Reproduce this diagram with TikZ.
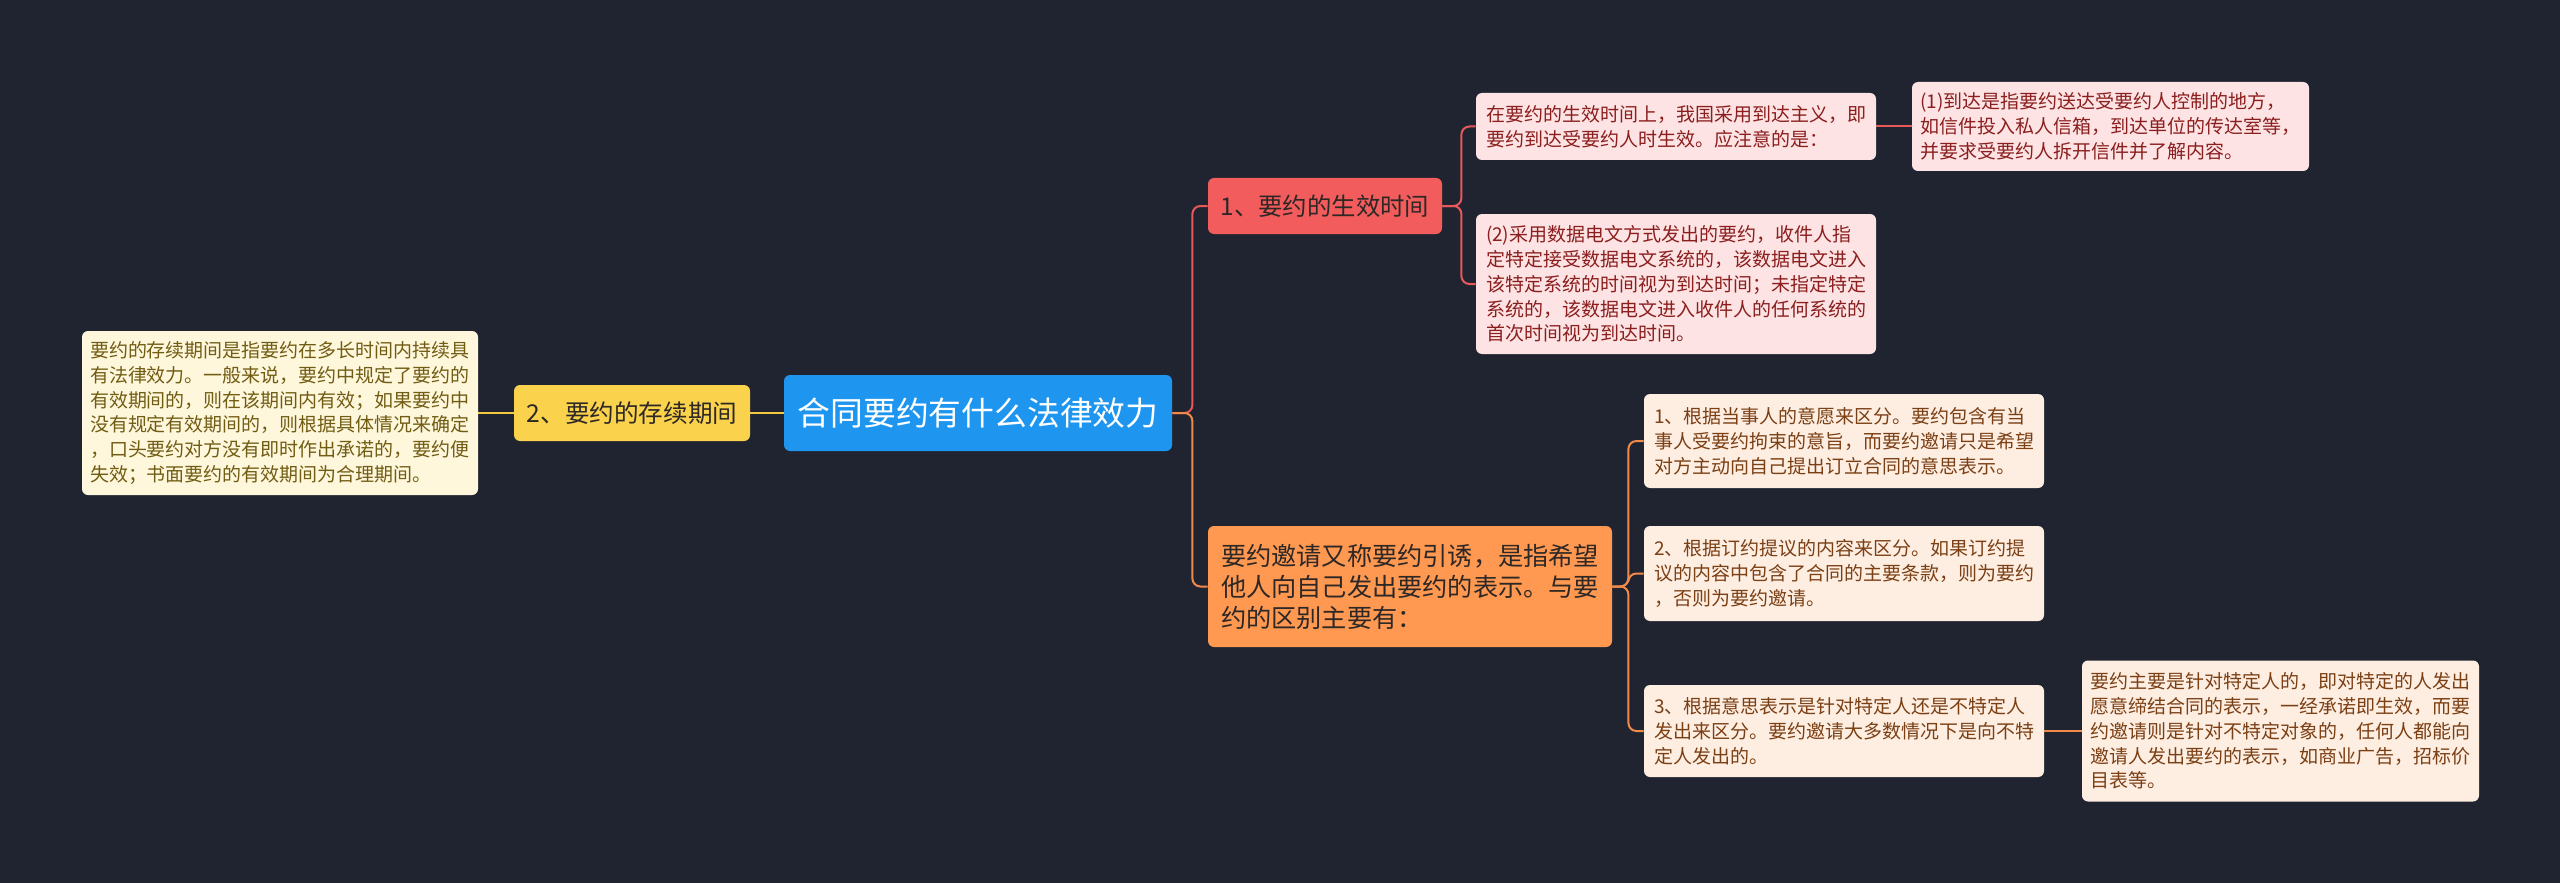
\documentclass[tikz,border=0pt]{standalone}
\usepackage{fontspec}
\setmainfont{Noto Sans CJK SC}
\usetikzlibrary{positioning}
\definecolor{bg}{RGB}{32,36,48}
\definecolor{rootblue}{RGB}{30,150,240}
\definecolor{yel}{RGB}{250,210,75}
\definecolor{yelline}{RGB}{244,200,65}
\definecolor{cream}{RGB}{255,247,220}
\definecolor{olive}{RGB}{112,92,18}
\definecolor{redb}{RGB}{243,92,92}
\definecolor{redline}{RGB}{232,88,90}
\definecolor{pink}{RGB}{253,227,227}
\definecolor{pinktext}{RGB}{139,30,30}
\definecolor{orab}{RGB}{255,152,80}
\definecolor{oraline}{RGB}{240,138,75}
\definecolor{peach}{RGB}{254,238,226}
\definecolor{peachtext}{RGB}{123,63,20}
\definecolor{dark}{RGB}{45,40,38}
\tikzset{basic/.style={rounded corners=3pt,inner sep=0pt,align=left}}
\tikzset{topic/.style={basic,fill=rootblue,text=white,font=\fontsize{16.4}{20}\selectfont}}
\tikzset{branch/.style={basic,text=dark,font=\fontsize{12.2}{15.5}\selectfont}}
\tikzset{leaf/.style={basic,font=\fontsize{9.5}{12.4}\selectfont}}
\tikzset{yleaf/.style={leaf,fill=cream,text=olive}}
\tikzset{rleaf/.style={leaf,fill=pink,text=pinktext}}
\tikzset{oleaf/.style={leaf,fill=peach,text=peachtext}}
\tikzset{link/.style={line width=1pt,rounded corners=4pt}}

\begin{document}
\begin{tikzpicture}[x=0.5pt,y=-0.5pt]
        \fill[bg] (0,0) rectangle (2560,883);
        \node[topic,minimum width=194pt,minimum height=38pt] (center) at (978,413) {合同要约有什么法律效力};
        % left side
        \node[branch,fill=yel,minimum width=118pt,minimum height=28pt,font=\fontsize{12.3}{15}\selectfont] (left) at (632,413) {2、要约的存续期间};
            \path[draw,yelline,link] (center.west) -- (left.east);
        \node[yleaf,minimum width=198pt,minimum height=82pt] (ll) at (280,413) {要约的存续期间是指要约在多长时间内持续具\\有法律效力。一般来说，要约中规定了要约的\\有效期间的，则在该期间内有效；如果要约中\\没有规定有效期间的，则根据具体情况来确定\\，口头要约对方没有即时作出承诺的，要约便\\失效；书面要约的有效期间为合理期间。};
            \path[draw,yelline,link] (left.west) -- (ll.east);
        % upper right
        \node[branch,fill=redb,minimum width=117pt,minimum height=28pt] (up) at (1325,206) {1、要约的生效时间};
            \path[draw,redline,link] (center.east) -- ++(20,0) |- (up.west);
        \node[rleaf,minimum width=200pt,minimum height=33.5pt] (u1) at (1676,126.5) {在要约的生效时间上，我国采用到达主义，即\\要约到达受要约人时生效。应注意的是：};
            \path[draw,redline,link] (up.east) -- ++(19,0) |- (u1.west);
        \node[rleaf,minimum width=198.5pt,minimum height=44.5pt] (u11) at (2110.5,126.5) {(1)到达是指要约送达受要约人控制的地方，\\如信件投入私人信箱，到达单位的传达室等，\\并要求受要约人拆开信件并了解内容。};
            \path[draw,redline,link] (u1.east) -- (u11.west);
        \node[rleaf,minimum width=200pt,minimum height=70pt] (u2) at (1676,284) {(2)采用数据电文方式发出的要约，收件人指\\定特定接受数据电文系统的，该数据电文进入\\该特定系统的时间视为到达时间；未指定特定\\系统的，该数据电文进入收件人的任何系统的\\首次时间视为到达时间。};
            \path[draw,redline,link] (up.east) -- ++(19,0) |- (u2.west);
        % lower right
        \node[branch,fill=orab,minimum width=202pt,minimum height=60.5pt,font=\fontsize{12.6}{15.5}\selectfont] (down) at (1410,586.5) {要约邀请又称要约引诱，是指希望\\他人向自己发出要约的表示。与要\\约的区别主要有：};
            \path[draw,oraline,link] (center.east) -- ++(20,0) |- (down.west);
        \node[oleaf,minimum width=200pt,minimum height=47pt] (d1) at (1844,441) {1、根据当事人的意愿来区分。要约包含有当\\事人受要约拘束的意旨，而要约邀请只是希望\\对方主动向自己提出订立合同的意思表示。};
            \path[draw,oraline,link] (down.east) -- ++(16,0) |- (d1.west);
        \node[oleaf,minimum width=200pt,minimum height=47.5pt] (d2) at (1844,573.5) {2、根据订约提议的内容来区分。如果订约提\\议的内容中包含了合同的主要条款，则为要约\\，否则为要约邀请。};
            \path[draw,oraline,link] (down.east) -- ++(16,0) |- (d2.west);
        \node[oleaf,minimum width=200pt,minimum height=46pt] (d3) at (1844,731) {3、根据意思表示是针对特定人还是不特定人\\发出来区分。要约邀请大多数情况下是向不特\\定人发出的。};
            \path[draw,oraline,link] (down.east) -- ++(16,0) |- (d3.west);
        \node[oleaf,minimum width=198.5pt,minimum height=70.5pt] (d31) at (2280.5,731) {要约主要是针对特定人的，即对特定的人发出\\愿意缔结合同的表示，一经承诺即生效，而要\\约邀请则是针对不特定对象的，任何人都能向\\邀请人发出要约的表示，如商业广告，招标价\\目表等。};
            \path[draw,oraline,link] (d3.east) -- (d31.west);
    \end{tikzpicture}
\end{document}
